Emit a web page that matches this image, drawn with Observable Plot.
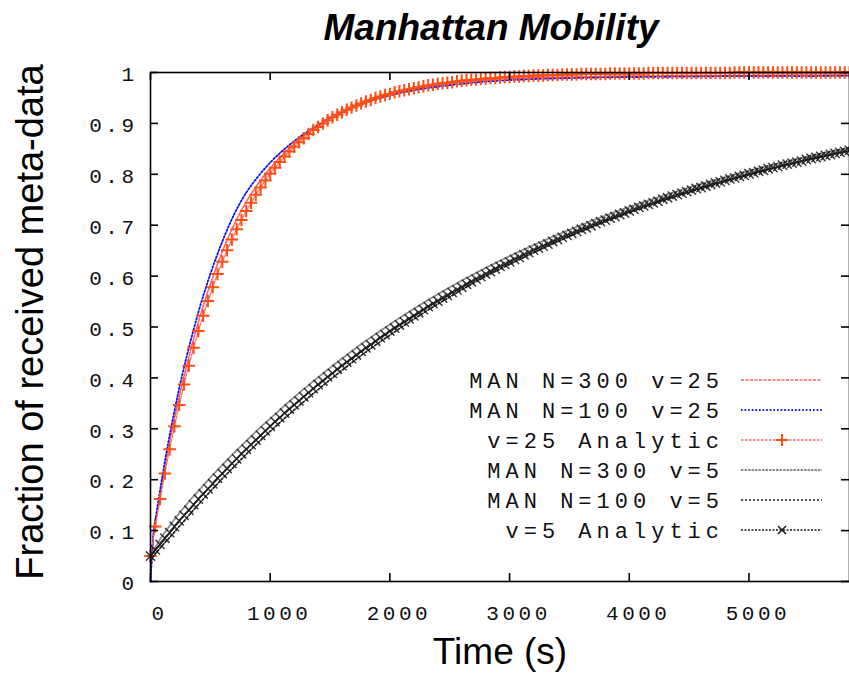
<!DOCTYPE html>
<html>
<head>
<meta charset="utf-8">
<script src="https://cdn.jsdelivr.net/npm/d3@7"></script>
<script src="https://cdn.jsdelivr.net/npm/@observablehq/plot@0.6"></script>
<style>
  html, body { margin: 0; padding: 0; background: #fff; overflow: hidden; }
  #chart { width: 849px; height: 683px; }
</style>
</head>
<body>
<div id="chart"></div>
<script>
// ---- Data -------------------------------------------------------------

// Sample times (s) of the analytic curves (one marker per sample)
const analyticTime = [
  0,40,80,120,160,200,240,280,320,360,
  400,440,480,520,560,600,640,680,720,760,
  800,840,880,920,960,1000,1040,1080,1120,1160,
  1200,1240,1280,1320,1360,1400,1440,1480,1520,1560,
  1600,1640,1680,1720,1760,1800,1840,1880,1920,1960,
  2000,2040,2080,2120,2160,2200,2240,2280,2320,2360,
  2400,2440,2480,2520,2560,2600,2640,2680,2720,2760,
  2800,2840,2880,2920,2960,3000,3040,3080,3120,3160,
  3200,3240,3280,3320,3360,3400,3440,3480,3520,3560,
  3600,3640,3680,3720,3760,3800,3840,3880,3920,3960,
  4000,4040,4080,4120,4160,4200,4240,4280,4320,4360,
  4400,4440,4480,4520,4560,4600,4640,4680,4720,4760,
  4800,4840,4880,4920,4960,5000,5040,5080,5120,5160,
  5200,5240,5280,5320,5360,5400,5440,5480,5520,5560,
  5600,5640,5680,5720,5760,5800,5840
];

// v=25 Analytic
const analyticV25 = [
  0.050,0.108,0.162,0.212,0.260,0.305,0.347,0.387,0.424,0.459,
  0.492,0.522,0.551,0.578,0.604,0.628,0.651,0.672,0.692,0.710,
  0.728,0.744,0.760,0.774,0.788,0.801,0.813,0.824,0.835,0.845,
  0.854,0.863,0.871,0.879,0.887,0.893,0.900,0.906,0.912,0.917,
  0.922,0.927,0.931,0.935,0.939,0.943,0.946,0.950,0.953,0.956,
  0.958,0.961,0.963,0.965,0.967,0.969,0.971,0.973,0.975,0.976,
  0.978,0.979,0.980,0.981,0.983,0.984,0.985,0.986,0.986,0.987,
  0.988,0.989,0.989,0.990,0.991,0.991,0.992,0.992,0.993,0.993,
  0.994,0.994,0.994,0.995,0.995,0.995,0.996,0.996,0.996,0.996,
  0.997,0.997,0.997,0.997,0.997,0.997,0.998,0.998,0.998,0.998,
  0.998,0.998,0.998,0.998,0.999,0.999,0.999,0.999,0.999,0.999,
  0.999,0.999,0.999,0.999,0.999,0.999,0.999,0.999,0.999,0.999,
  0.999,0.999,1.000,1.000,1.000,1.000,1.000,1.000,1.000,1.000,
  1.000,1.000,1.000,1.000,1.000,1.000,1.000,1.000,1.000,1.000,
  1.000,1.000,1.000,1.000,1.000,1.000,1.000
];

// v=5 Analytic
const analyticV5 = [
  0.050,0.062,0.073,0.085,0.096,0.108,0.119,0.130,0.140,0.151,
  0.162,0.172,0.182,0.192,0.203,0.212,0.222,0.232,0.241,0.251,
  0.260,0.269,0.278,0.287,0.296,0.305,0.314,0.322,0.331,0.339,
  0.347,0.355,0.363,0.371,0.379,0.387,0.394,0.402,0.409,0.417,
  0.424,0.431,0.438,0.445,0.452,0.459,0.465,0.472,0.479,0.485,
  0.492,0.498,0.504,0.510,0.516,0.522,0.528,0.534,0.540,0.546,
  0.551,0.557,0.562,0.568,0.573,0.578,0.584,0.589,0.594,0.599,
  0.604,0.609,0.614,0.619,0.623,0.628,0.633,0.637,0.642,0.646,
  0.651,0.655,0.659,0.663,0.668,0.672,0.676,0.680,0.684,0.688,
  0.692,0.695,0.699,0.703,0.707,0.710,0.714,0.717,0.721,0.724,
  0.728,0.731,0.735,0.738,0.741,0.744,0.747,0.751,0.754,0.757,
  0.760,0.763,0.766,0.769,0.772,0.774,0.777,0.780,0.783,0.785,
  0.788,0.791,0.793,0.796,0.798,0.801,0.803,0.806,0.808,0.811,
  0.813,0.815,0.818,0.820,0.822,0.824,0.826,0.829,0.831,0.833,
  0.835,0.837,0.839,0.841,0.843,0.845,0.847
];

// Sample times (s) of the Manhattan simulation runs
const simTime = [0,25,50,75,100,150,200,250,300,350,400,500,600,700,800,900,1000,
  1200,1400,1600,1800,2000,2250,2500,2750,3000,3500,4000,4500,5000,5500,5900];

const manN300v25 = [0.000,0.090,0.128,0.163,0.198,0.262,0.320,0.373,0.422,0.468,0.510,0.584,0.648,0.702,0.746,0.782,0.812,
  0.860,0.895,0.922,0.942,0.956,0.969,0.978,0.984,0.988,0.991,0.993,0.994,0.994,0.995,0.995];
const manN100v25 = [0.000,0.095,0.135,0.172,0.208,0.275,0.335,0.390,0.440,0.486,0.529,0.604,0.668,0.722,0.764,0.796,0.823,
  0.865,0.897,0.922,0.941,0.955,0.967,0.975,0.981,0.985,0.989,0.991,0.992,0.993,0.993,0.994];
const manN300v5 = [0.045,0.061,0.071,0.081,0.090,0.106,0.122,0.137,0.151,0.165,0.178,0.204,0.229,0.253,0.276,0.299,0.320,
  0.362,0.401,0.438,0.473,0.505,0.543,0.578,0.610,0.639,0.691,0.736,0.774,0.807,0.835,0.855];
const manN100v5 = [0.040,0.050,0.057,0.064,0.071,0.084,0.097,0.111,0.124,0.138,0.151,0.177,0.202,0.226,0.250,0.273,0.295,
  0.337,0.377,0.415,0.451,0.484,0.523,0.559,0.593,0.623,0.678,0.725,0.765,0.799,0.829,0.849];

// Axis ticks
const xTicks = [0, 1000, 2000, 3000, 4000, 5000];
const xTickLabels = ["0", "1000", "2000", "3000", "4000", "5000"];
const yTicks = [0, 0.1, 0.2, 0.3, 0.4, 0.5, 0.6, 0.7, 0.8, 0.9, 1];
const yTickLabels = ["0", "0.1", "0.2", "0.3", "0.4", "0.5", "0.6", "0.7", "0.8", "0.9", "1"];

// Texts
const titleText = "Manhattan Mobility";
const xLabelText = "Time (s)";
const yLabelText = "Fraction of received meta-data";
const legendLabels = ["MAN N=300 v=25", "MAN N=100 v=25", "v=25 Analytic",
                      "MAN N=300 v=5", "MAN N=100 v=5", "v=5 Analytic"];

// ---- Styles -------------------------------------------------------------
const lineStroke = ["#ff5c5c", "#1414f0", "#ff6a5a", "#8c8c8c", "#1a1a1a", "#1a1a1a"];
const lineDash   = ["3,1.5",   "1.6,2",   "2.5,1.5", "2.5,1",   "2,2",     "2,1.5"];
const lineWidth  = [1.6, 1.8, 1.3, 1.8, 1.7, 1.4];
const markerColor = { plus: "#ff4d14", times: "#1a1a1a" };
const mono = "'Liberation Mono', 'DejaVu Sans Mono', monospace";
const sans = "'Liberation Sans', Arial, sans-serif";

// ---- Layout -------------------------------------------------------------
const W = 849, H = 683;
const M = { top: 72, right: 0, bottom: 102, left: 150 };
const frameW = W - M.left - M.right;
const frameH = H - M.top - M.bottom;
const tickLen = 8;

const pts = (ts, vs) => ts.map((t, i) => ({ t, v: vs[i] }));
const series = [
  pts(simTime, manN300v25),
  pts(simTime, manN100v25),
  pts(analyticTime, analyticV25),
  pts(simTime, manN300v5),
  pts(simTime, manN100v5),
  pts(analyticTime, analyticV5)
];
const lineFor = (i) => Plot.line(series[i], {
  x: "t", y: "v", stroke: lineStroke[i], strokeWidth: lineWidth[i],
  strokeDasharray: lineDash[i], curve: "monotone-x"
});

const xLab = xTicks.map((t, i) => ({ t, label: xTickLabels[i] }));
const yLab = yTicks.map((v, i) => ({ v, label: yTickLabels[i] }));

const chart = Plot.plot({
  width: W, height: H,
  marginTop: M.top, marginRight: M.right, marginBottom: M.bottom, marginLeft: M.left,
  x: { domain: [0, 5840], axis: null },
  y: { domain: [0, 1], axis: null },
  style: { background: "#fff", overflow: "visible" },
  marks: [
    lineFor(0),
    lineFor(1),
    lineFor(2),
    Plot.dot(series[2], { x: "t", y: "v", symbol: "plus", r: 4.1, fill: "none",
      stroke: markerColor.plus, strokeWidth: 2 }),
    lineFor(3),
    lineFor(4),
    lineFor(5),
    Plot.dot(series[5], { x: "t", y: "v", symbol: "times", r: 4.3, fill: "none",
      stroke: markerColor.times, strokeWidth: 1.5, strokeOpacity: 0.85 }),

    // border and inward ticks on all four sides
    Plot.frame({ stroke: "#000", strokeWidth: 1.6 }),
    Plot.tickX(xTicks, { x: d => d, insetTop: frameH - tickLen, stroke: "#000", strokeWidth: 1.6 }),
    Plot.tickX(xTicks, { x: d => d, insetBottom: frameH - tickLen, stroke: "#000", strokeWidth: 1.6 }),
    Plot.tickY(yTicks, { y: d => d, insetRight: frameW - tickLen, stroke: "#000", strokeWidth: 1.6 }),
    Plot.tickY(yTicks, { y: d => d, insetLeft: frameW - tickLen, stroke: "#000", strokeWidth: 1.6 }),

    // tick labels
    Plot.text(xLab, { x: "t", text: "label", frameAnchor: "bottom", lineAnchor: "middle",
      dy: 32, dx: 9, fontFamily: mono, fontSize: 21, fill: "#111" }),
    Plot.text(yLab, { y: "v", text: "label", frameAnchor: "left", textAnchor: "end",
      lineAnchor: "middle", dx: -13, dy: 2, fontFamily: mono, fontSize: 21, fill: "#111" }),

    // title and axis labels
    Plot.text([titleText], { frameAnchor: "top", lineAnchor: "middle", dy: -44, dx: -9,
      fontFamily: sans, fontSize: 37, fontWeight: "bold", fontStyle: "italic", fill: "#000" }),
    Plot.text([xLabelText], { frameAnchor: "bottom", lineAnchor: "middle", dy: 71,
      fontFamily: sans, fontSize: 37, fill: "#000" }),
    Plot.text([yLabelText], { frameAnchor: "left", textAnchor: "middle", lineAnchor: "middle",
      dx: -120, dy: -5, rotate: -90, fontFamily: sans, fontSize: 38, fill: "#000" })
  ]
});

// gnuplot-style spaced digits on the tick labels
d3.select(chart).selectAll("text")
  .filter(function () { return /^[0-9.]+$/.test(this.textContent); })
  .attr("letter-spacing", 3.5);

// ---- Legend -------------------------------------------------------------
const legend = {
  textRight: 724, top: 380, step: 30, x1: 741, x2: 822, markerX: 782
};
const legendSymbol = [null, null, d3.symbolPlus, null, null, d3.symbolTimes];
const g = d3.select(chart).append("g")
  .attr("font-family", mono).attr("font-size", 22).attr("fill", "#111");
legendLabels.forEach((label, i) => {
  const y = legend.top + i * legend.step;
  g.append("text")
    .attr("x", legend.textRight).attr("y", y).attr("dy", "0.35em")
    .attr("text-anchor", "end").attr("letter-spacing", 5)
    .text(label);
  g.append("line")
    .attr("x1", legend.x1).attr("x2", legend.x2).attr("y1", y).attr("y2", y)
    .attr("stroke", lineStroke[i]).attr("stroke-width", lineWidth[i])
    .attr("stroke-dasharray", lineDash[i]);
  if (legendSymbol[i]) {
    const isPlus = legendSymbol[i] === d3.symbolPlus;
    g.append("path")
      .attr("transform", `translate(${legend.markerX},${y})`)
      .attr("d", d3.symbol(legendSymbol[i], isPlus ? 48 : 44)())
      .attr("fill", "none")
      .attr("stroke", isPlus ? markerColor.plus : markerColor.times)
      .attr("stroke-width", isPlus ? 2 : 1.5);
  }
});

document.getElementById("chart").appendChild(chart);
</script>
</body>
</html>
